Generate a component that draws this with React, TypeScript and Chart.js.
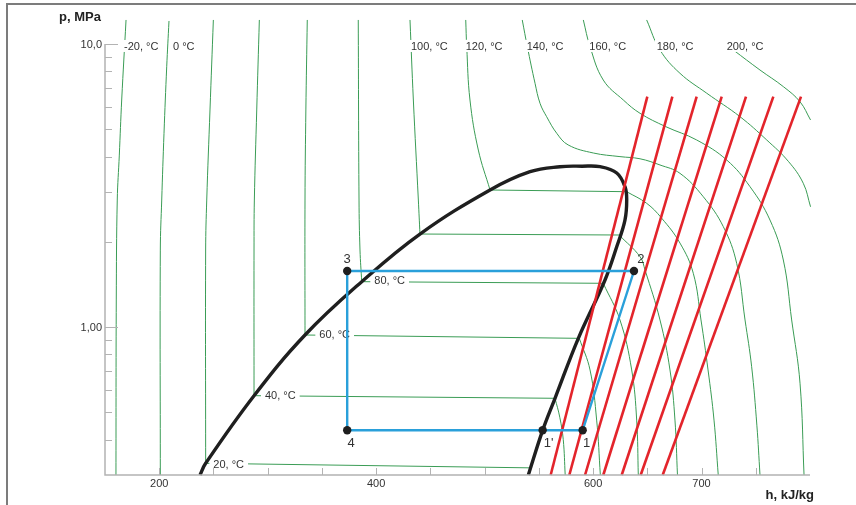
import React, { useEffect, useRef } from "react";
import { Chart, registerables } from "chart.js";

Chart.register(...registerables);

type Pt = [number, number]; // [h kJ/kg, p MPa]

// ---- axes ----
const xMin = 150;
const xMax = 800;
const yMin = 0.3;
const yMax = 10;
const xMinorTicks = [200, 250, 300, 350, 400, 450, 500, 550, 600, 650, 700, 750];
const xTickLabels = [200, 400, 600, 700];
const yMinorTicks = [0.4, 0.5, 0.6, 0.7, 0.8, 0.9, 2, 3, 4, 5, 6, 7, 8, 9];
const yMajorTicks = [1, 10];
const yTickLabels = ["1,00", "10,0"];
const xTitle = "h, kJ/kg";
const yTitle = "p, MPa";

// ---- saturation dome ----
const domeCurve: Pt[] = [
  [237.6, 0.3], [242.8, 0.33], [287.4, 0.572], [334.4, 0.937], [386.7, 1.446],
  [440.4, 2.131], [505.0, 3.049], [541.9, 3.538], [569.5, 3.685], [590, 3.7],
  [606.4, 3.685], [621.8, 3.501], [629.4, 3.132], [631.0, 2.81], [629.4, 2.388],
  [621.8, 1.921], [611.0, 1.466], [586.4, 0.912], [564.9, 0.56], [553.5, 0.4315],
  [540.3, 0.3],
];

// ---- isotherms ----
const isoM20: Pt[] = [[169.4, 12.16], [165.4, 6.34], [163.2, 4.05], [161.3, 2.81], [160.4, 1.246], [160.1, 0.3]];
const iso0: Pt[] = [[209.0, 12.06], [206.9, 8.31], [204.4, 4.836], [202.3, 2.81], [201.0, 1.87], [201.0, 0.3]];
const iso20Liquid: Pt[] = [[249.9, 12.16], [246.8, 5.846], [243.8, 2.81], [242.8, 1.871], [242.8, 0.33]];
const iso20Wet: Pt[] = [[242.8, 0.33], [541.0, 0.318]];
const iso40Liquid: Pt[] = [[292.3, 12.16], [289.9, 5.846], [287.7, 2.81], [287.4, 1.871], [287.4, 0.572]];
const iso40Wet: Pt[] = [[287.4, 0.572], [564.9, 0.56]];
const iso40Vapor: Pt[] = [[564.9, 0.56], [569.3, 0.48], [572.5, 0.4], [574.3, 0.3]];
const iso60Liquid: Pt[] = [[336.5, 12.16], [335.2, 5.846], [334.4, 2.81], [334.4, 0.937]];
const iso60Wet: Pt[] = [[334.4, 0.937], [587.3, 0.912]];
const iso60Vapor: Pt[] = [[587.3, 0.912], [597.2, 0.705], [603.3, 0.469], [606.7, 0.3]];
const iso80Liquid: Pt[] = [[383.5, 12.16], [384.2, 2.81], [385.1, 1.871], [386.7, 1.446]];
const iso80Wet: Pt[] = [[386.7, 1.446], [609.4, 1.427]];
const iso80Vapor: Pt[] = [[609.4, 1.427], [624.8, 1.059], [635.6, 0.705], [640.2, 0.469], [641.7, 0.3]];
const iso100Liquid: Pt[] = [[431.2, 12.16], [434.3, 6.34], [438.9, 2.81], [440.4, 2.131]];
const iso100Wet: Pt[] = [[440.4, 2.131], [624.0, 2.114]];
const iso100Vapor: Pt[] = [[624.0, 2.114], [643.3, 1.772], [647.9, 1.59], [661.7, 1.059], [670.9, 0.705], [675.5, 0.469], [677.8, 0.3]];
const iso120Upper: Pt[] = [[482.6, 12.16], [483.5, 9.78], [486.5, 6.34], [494.2, 4.22], [505.0, 3.049]];
const iso120Wet: Pt[] = [[505.0, 3.049], [631.0, 3.007]];
const iso120Vapor: Pt[] = [[631.0, 3.007], [649.4, 2.736], [663, 2.43], [680.1, 1.98], [692.4, 1.548], [699.5, 1.059], [706, 0.705], [711.5, 0.469], [715.4, 0.3]];
const iso140: Pt[] = [
  [534.7, 12.16], [539.4, 9.78], [546.5, 7.26], [551.1, 6.17], [557.2, 5.535], [566.5, 4.836],
  [577, 4.4], [600.2, 4.12], [624.8, 4.0], [643.3, 3.93], [661.7, 3.737], [680.1, 3.492],
  [701.6, 2.887], [720.1, 2.262], [732.4, 1.679], [740.1, 1.059], [746.2, 0.724], [751, 0.45], [753.9, 0.3],
];
const iso160: Pt[] = [
  [591.0, 12.16], [597.2, 9.78], [609.4, 7.46], [627.9, 6.34], [643.3, 5.69], [667, 5.105],
  [695.5, 4.58], [723.2, 3.892], [744.7, 3.132], [763.1, 2.388], [775.4, 1.725], [783.1, 1.059],
  [790.8, 0.633], [794.5, 0.3],
];
const iso180: Pt[] = [[649.4, 12.16], [661.7, 9.524], [680.1, 7.88], [704.8, 6.7], [735.5, 5.535], [760.1, 4.58], [780, 3.85], [793.8, 3.22], [800.5, 2.66]];
const iso200: Pt[] = [[729.3, 9.524], [753.9, 8.092], [775.4, 7.07], [790.8, 6.25], [800.5, 5.39]];

const isoCurves: Pt[][] = [
  isoM20, iso0, iso20Liquid, iso40Liquid, iso40Vapor, iso60Liquid, iso60Vapor,
  iso80Liquid, iso80Vapor, iso100Liquid, iso100Vapor, iso120Upper, iso120Vapor,
  iso140, iso160, iso180, iso200,
];
const isoStraight: Pt[][] = [iso20Wet, iso40Wet, iso60Wet, iso80Wet, iso100Wet, iso120Wet];

const isoLabelText = ["-20, °C", "0 °C", "100, °C", "120, °C", "140, °C", "160, °C", "180, °C", "200, °C", "20, °C", "40, °C", "60, °C", "80, °C"];
const isoLabelH = [167.5, 212.7, 432.1, 482.6, 538.8, 596.5, 658.7, 723.2, 249.9, 297.5, 347.6, 398.3];
const isoLabelP = [9.84, 9.84, 9.84, 9.84, 9.84, 9.84, 9.84, 9.84, 0.328, 0.572, 0.939, 1.457];

// ---- isentropes (red) ----
const redTopH = [650.0, 673.1, 695.5, 718.6, 741.0, 766.2, 791.7];
const redBottomH = [560.9, 578.1, 592.6, 609.4, 626.4, 643.9, 664.2];
const redTopP = 6.515;
const redBottomP = 0.3;

// ---- refrigeration cycle ----
const cycleNames = ["3", "2", "1", "1'", "4"];
const cycleH = [373.3, 637.7, 590.4, 553.5, 373.3];
const cycleP = [1.577, 1.577, 0.4315, 0.4315, 0.4315];

const FONT = '"Liberation Sans", Arial, Helvetica, sans-serif';
const GREEN = "#3a9c55";
const RED = "#e3242b";
const BLUE = "#2aa0da";
const BLACK = "#1f1f1f";
const AXIS = "#b3b3b3";
const TEXT = "#333333";

const toXY = (pts: Pt[]) => pts.map(([x, y]) => ({ x, y }));

export default function App() {
  const ref = useRef<HTMLCanvasElement>(null);

  useEffect(() => {
    const canvas = ref.current;
    if (!canvas) return;

    const base = { pointRadius: 0, fill: false, clip: false as const, capBezierPoints: false };
    const datasets: any[] = [];
    // 0: dots (drawn last = on top)
    datasets.push({
      data: cycleH.map((h, i) => ({ x: h, y: cycleP[i] })),
      showLine: false,
      pointRadius: 4.2,
      pointBackgroundColor: BLACK,
      pointBorderWidth: 0,
      borderColor: BLACK,
      clip: false,
    });
    // 1: cycle path 3-2-1-1'-4-3
    const cyc = [0, 1, 2, 3, 4, 0];
    datasets.push({
      ...base,
      data: cyc.map((i) => ({ x: cycleH[i], y: cycleP[i] })),
      borderColor: BLUE,
      borderWidth: 2.4,
      tension: 0,
    });
    // red lines (over the dome)
    redTopH.forEach((h, i) => {
      datasets.push({
        ...base,
        data: [{ x: h, y: redTopP }, { x: redBottomH[i], y: redBottomP }],
        borderColor: RED,
        borderWidth: 2.6,
        tension: 0,
      });
    });
    // dome
    datasets.push({ ...base, data: toXY(domeCurve), borderColor: BLACK, borderWidth: 3.4, tension: 0.4, borderJoinStyle: "round" });
    const greenStart = datasets.length;
    isoStraight.forEach((pts) => datasets.push({ ...base, data: toXY(pts), borderColor: GREEN, borderWidth: 1, tension: 0 }));
    isoCurves.forEach((pts) => datasets.push({ ...base, data: toXY(pts), borderColor: GREEN, borderWidth: 1, tension: 0.4 }));

    const overlay = {
      id: "overlay",
      afterDatasetDraw(chart: any, args: any) {
        if (args.index !== greenStart) return;
        const ctx = chart.ctx as CanvasRenderingContext2D;
        const xs = chart.scales.x;
        const ys = chart.scales.y;
        ctx.save();
        ctx.font = `11px ${FONT}`;
        ctx.textAlign = "left";
        ctx.textBaseline = "middle";
        isoLabelText.forEach((t, i) => {
          const px = xs.getPixelForValue(isoLabelH[i]);
          const py = ys.getPixelForValue(isoLabelP[i]);
          const w = ctx.measureText(t).width;
          const pad = i < 8 ? 2 : 4;
          ctx.fillStyle = "#ffffff";
          ctx.fillRect(px - pad, py - 6, w + pad * 2, 12);
          ctx.fillStyle = TEXT;
          ctx.fillText(t, px, py + 0.5);
        });
        ctx.restore();
      },
      afterDraw(chart: any) {
        const ctx = chart.ctx as CanvasRenderingContext2D;
        const xs = chart.scales.x;
        const ys = chart.scales.y;
        const { left, right, top, bottom } = chart.chartArea;
        ctx.save();
        ctx.strokeStyle = AXIS;
        ctx.lineWidth = 1.5;
        ctx.beginPath();
        ctx.moveTo(left, top);
        ctx.lineTo(left, bottom);
        ctx.lineTo(right, bottom);
        ctx.stroke();
        ctx.lineWidth = 1;
        ctx.beginPath();
        xMinorTicks.forEach((v) => {
          const px = Math.round(xs.getPixelForValue(v)) + 0.5;
          ctx.moveTo(px, bottom);
          ctx.lineTo(px, bottom - 7);
        });
        yMinorTicks.forEach((v) => {
          const py = Math.round(ys.getPixelForValue(v)) + 0.5;
          ctx.moveTo(left, py);
          ctx.lineTo(left + 7, py);
        });
        yMajorTicks.forEach((v) => {
          const py = Math.round(ys.getPixelForValue(v)) + 0.5;
          ctx.moveTo(left, py);
          ctx.lineTo(left + 13, py);
        });
        ctx.stroke();

        ctx.fillStyle = TEXT;
        ctx.font = `11px ${FONT}`;
        ctx.textBaseline = "middle";
        ctx.textAlign = "center";
        xTickLabels.forEach((v) => {
          ctx.fillText(String(v), xs.getPixelForValue(v), bottom + 9);
        });
        ctx.textAlign = "right";
        yMajorTicks.forEach((v, i) => {
          ctx.fillText(yTickLabels[i], left - 3, ys.getPixelForValue(v) + 1);
        });

        ctx.fillStyle = "#222222";
        ctx.font = `bold 13px ${FONT}`;
        ctx.textAlign = "left";
        ctx.fillText(yTitle, 59, 17);
        ctx.textAlign = "right";
        ctx.fillText(xTitle, right + 4, bottom + 20);

        ctx.fillStyle = TEXT;
        ctx.font = `13px ${FONT}`;
        ctx.textAlign = "center";
        const offs: Pt[] = [[0, -12], [7, -12], [4, 13], [6, 13], [4, 13]];
        cycleNames.forEach((n, i) => {
          const px = xs.getPixelForValue(cycleH[i]);
          const py = ys.getPixelForValue(cycleP[i]);
          ctx.fillText(n, px + offs[i][0], py + offs[i][1]);
        });
        ctx.restore();
      },
    };

    const chart = new Chart(canvas, {
      type: "line",
      data: { datasets },
      options: {
        animation: false,
        responsive: false,
        events: [],
        layout: { padding: { left: 105, top: 44, right: 46, bottom: 30 } },
        scales: {
          x: { type: "linear", min: xMin, max: xMax, display: false },
          y: { type: "logarithmic", min: yMin, max: yMax, display: false },
        },
        plugins: { legend: { display: false }, tooltip: { enabled: false } },
        elements: { line: { capBezierPoints: false } },
      },
      plugins: [overlay],
    } as any);
    return () => chart.destroy();
  }, []);

  return (
    <div style={{ position: "fixed", left: 0, top: 0, width: 856, height: 505, overflow: "hidden", background: "#fff" }}>
      <div
        style={{
          position: "absolute",
          left: 6,
          top: 3,
          width: 900,
          height: 600,
          borderTop: "2px solid #7c7c7c",
          borderLeft: "2px solid #7c7c7c",
        }}
      />
      <canvas ref={ref} width={856} height={505} style={{ position: "absolute", left: 0, top: 0, width: 856, height: 505 }} />
    </div>
  );
}
